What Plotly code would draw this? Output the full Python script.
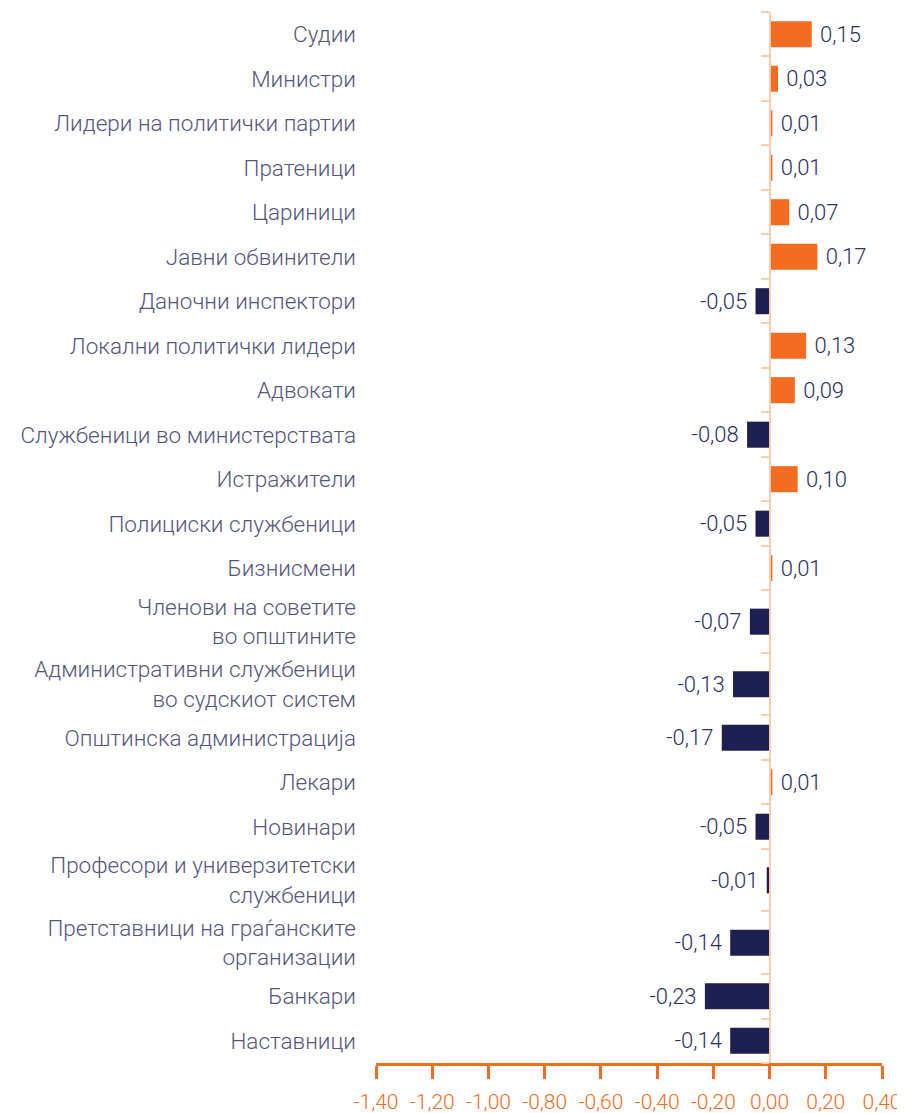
"""
Horizontal diverging bar chart — trust index by profession.
"""
import plotly.graph_objects as go

categories = [
    'Судии', 'Министри', 'Лидери на политички партии', 'Пратеници', 'Цариници',
    'Јавни обвинители', 'Даночни инспектори', 'Локални политички лидери', 'Адвокати',
    'Службеници во министерствата', 'Истражители', 'Полициски службеници', 'Бизнисмени',
    'Членови на советите<br>во општините', 'Административни службеници<br>во судскиот систем',
    'Општинска администрација', 'Лекари', 'Новинари',
    'Професори и универзитетски<br>службеници', 'Претставници на граѓанските<br>организации',
    'Банкари', 'Наставници',
]
values = [0.15, 0.03, 0.01, 0.01, 0.07, 0.17, -0.05, 0.13, 0.09, -0.08, 0.10, -0.05,
          0.01, -0.07, -0.13, -0.17, 0.01, -0.05, -0.01, -0.14, -0.23, -0.14]

x_ticks = [-1.4, -1.2, -1.0, -0.8, -0.6, -0.4, -0.2, 0.0, 0.2, 0.4]
x_tick_labels = ['-1,40', '-1,20', '-1,00', '-0,80', '-0,60', '-0,40', '-0,20', '0,00', '0,20', '0,40']

ORANGE = '#F26C22'
NAVY = '#1E2052'
PEACH = '#FBCDAE'
LABEL = '#55567C'
VALUE = '#2C2F62'
FONT = 'Roboto, sans-serif'

# rows with two-line labels take more vertical room
row_h = [62.4 if '<br>' in c else 44.4 for c in categories]
edges = [0.0]
for h in row_h:
    edges.append(edges[-1] + h)
centers = [edges[i] + row_h[i] / 2 for i in range(len(categories))]
total = edges[-1]

colors = [ORANGE if v >= 0 else NAVY for v in values]
texts = [('\u00a0' + f'{v:.2f}' if v >= 0 else f'{v:.2f}' + '\u00a0').replace('.', ',') for v in values]

fig = go.Figure()
fig.add_trace(go.Bar(
    x=values, y=centers, orientation='h', width=26,
    marker=dict(color=colors, line=dict(width=0)),
    text=texts, textposition='outside', cliponaxis=False,
    textfont=dict(family=FONT, size=22, color=VALUE, weight=300),
    hoverinfo='skip',
))
# invisible trace so the zero axis (y2) gets drawn
fig.add_trace(go.Scatter(
    x=[0], y=[centers[0]], yaxis='y2', mode='markers',
    marker=dict(opacity=0), hoverinfo='skip',
))

x_min, x_max = x_ticks[0], x_ticks[-1]
zero_pos = (0 - x_min) / (x_max - x_min)

# page body has an 8px margin, so the figure is 8px smaller
fig.update_layout(
    width=897, height=1105,
    margin=dict(l=368, r=23, t=4, b=50),
    plot_bgcolor='white', paper_bgcolor='white',
    showlegend=False,
    font=dict(family=FONT, size=22.5, color=LABEL),
    xaxis=dict(
        range=[x_min, x_max], tickvals=x_ticks, ticktext=x_tick_labels,
        showgrid=False, zeroline=False, automargin=False,
        showline=True, linecolor=ORANGE, linewidth=2.5,
        ticks='outside', ticklen=13, tickwidth=2.5, tickcolor=ORANGE,
        ticklabelstandoff=5,
        tickfont=dict(family=FONT, size=21, color=ORANGE, weight=300),
    ),
    yaxis=dict(
        range=[total, 0], tickvals=centers, ticktext=categories,
        showgrid=False, zeroline=False, showline=False, ticks='',
        automargin=False, ticklabelstandoff=19,
        tickfont=dict(family=FONT, size=22.5, color=LABEL, weight=300),
    ),
    yaxis2=dict(
        overlaying='y', anchor='free', position=zero_pos, side='left',
        range=[total, 0], tickvals=edges, showticklabels=False,
        showgrid=False, zeroline=False, automargin=False,
        showline=True, linecolor=PEACH, linewidth=2,
        ticks='outside', ticklen=8, tickwidth=1.5, tickcolor=PEACH,
    ),
)

fig.write_html("out.html")
